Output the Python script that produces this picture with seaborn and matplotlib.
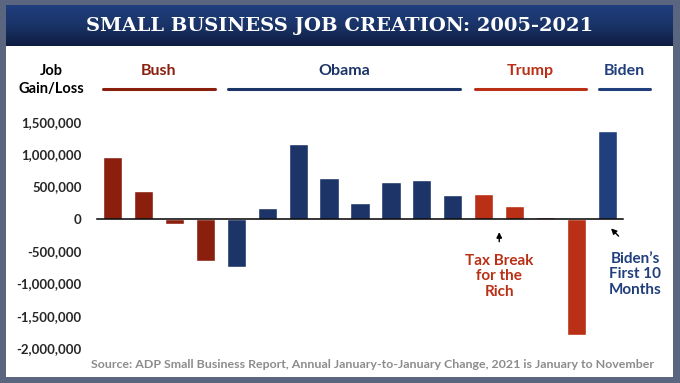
import numpy as np
import pandas as pd
import seaborn as sns
import matplotlib.pyplot as plt
import matplotlib.transforms as mtransforms
from matplotlib.colors import LinearSegmentedColormap

# yearly small business job change (ADP)
years = [str(y) for y in range(2005, 2022)]
jobs = [950000, 430000, -75000, -650000, -750000, 170000, 1150000, 625000,
        250000, 560000, 600000, 360000, 375000, 200000, 30000, -1800000, 1350000]
president = ['Bush'] * 4 + ['Obama'] * 8 + ['Trump'] * 4 + ['Biden']
yticks = [-2000000, -1500000, -1000000, -500000, 0, 500000, 1000000, 1500000]

pres_colors = {'Bush': '#8B1F0E', 'Obama': '#1C3468', 'Trump': '#B93016', 'Biden': '#213F7D'}
# header bars over each term (data x span)
terms = [('Bush', -0.31, 3.31), ('Obama', 3.73, 11.23),
         ('Trump', 11.72, 15.30), ('Biden', 15.72, 17.37)]

df = pd.DataFrame({'year': years, 'jobs': jobs, 'president': president})

sns.set_style('white')
plt.rcParams['font.family'] = ['Lato', 'DejaVu Sans']

fig = plt.figure(figsize=(6.8, 3.83), dpi=100)
fig.patch.set_facecolor('#5A6680')
W, H = 680, 383

# white panel and title band
panel = fig.add_axes([6 / W, (H - 377) / H, 667 / W, 372 / H])
panel.set_facecolor('white')
panel.set_xticks([]); panel.set_yticks([])
for s in panel.spines.values():
    s.set_visible(False)

band = fig.add_axes([6 / W, (H - 46) / H, 667 / W, 41 / H])
grad = np.linspace(0, 1, 64).reshape(-1, 1)
cm = LinearSegmentedColormap.from_list('band', ['#203E7E', '#1A3468', '#0E1C40'])
band.imshow(grad, aspect='auto', cmap=cm, extent=[0, 1, 0, 1])
band.axis('off')
fig.text(0.5, (H - 26) / H, 'SMALL BUSINESS JOB CREATION: 2005-2021', ha='center', va='center',
         color='white', fontsize=14, fontweight='bold', family='DejaVu Serif')

ax = fig.add_axes([97 / W, (H - 348) / H, 526 / W, 226.3 / H])
ax.patch.set_alpha(0)
sns.barplot(data=df, x='year', y='jobs', hue='president', palette=pres_colors,
            width=0.62, legend=False, ax=ax, saturation=1)
ax.set_xlim(-0.5, 16.5)
ax.set_ylim(-2000000, 1500000)
ax.set_yticks(yticks)
ax.set_yticklabels([f'{v:,}' for v in yticks], fontsize=9.5, fontweight='bold')
ax.tick_params(axis='y', length=0, pad=11)
ax.set_xlabel(''); ax.set_ylabel('')
ax.set_xticks([])
ax.set_xticks(np.arange(-0.5, 17, 1), minor=True)
ax.tick_params(axis='x', which='minor', direction='out', length=4, width=1, color='black')
for s in ['left', 'right', 'top']:
    ax.spines[s].set_visible(False)
ax.spines['bottom'].set_position(('data', 0))
ax.spines['bottom'].set_color('black')
ax.spines['bottom'].set_linewidth(1.1)

# header: president names with lines
tr = mtransforms.blended_transform_factory(ax.transData, fig.transFigure)
for name, x0, x1 in terms:
    c = pres_colors[name]
    ax.plot([x0, x1], [(H - 89) / H] * 2, color=c, lw=2.2, transform=tr, clip_on=False)
    ax.text((x0 + x1) / 2, (H - 71) / H, name, color=c, fontsize=11.5, fontweight='bold',
            ha='center', va='center', transform=tr)
fig.text(51 / W, (H - 80) / H, 'Job\nGain/Loss', ha='center', va='center', fontsize=10.5,
         fontweight='bold', color='black', linespacing=1.4)

# annotations
ax.annotate('', xy=(12.5, -165000), xytext=(12.5, -400000),
            arrowprops=dict(arrowstyle='-|>', color='black', lw=1, mutation_scale=8))
ax.text(12.5, -890000, 'Tax Break\nfor the\nRich', ha='center', va='center', fontsize=11,
        fontweight='bold', color=pres_colors['Trump'], linespacing=1.15)
ax.annotate('', xy=(16.05, -120000), xytext=(16.42, -300000),
            arrowprops=dict(arrowstyle='-|>', color='black', lw=1, mutation_scale=8))
ax.text(16.9, -860000, 'Biden\u2019s\nFirst 10\nMonths', ha='center', va='center', fontsize=11,
        fontweight='bold', color=pres_colors['Biden'], linespacing=1.15)

fig.text(372 / W, (H - 364) / H,
         'Source: ADP Small Business Report, Annual January-to-January Change, 2021 is January to November',
         ha='center', va='center', fontsize=8.9, fontweight='bold', color='#8C8C8C')

fig.savefig('out.png', dpi=100, facecolor=fig.get_facecolor())
